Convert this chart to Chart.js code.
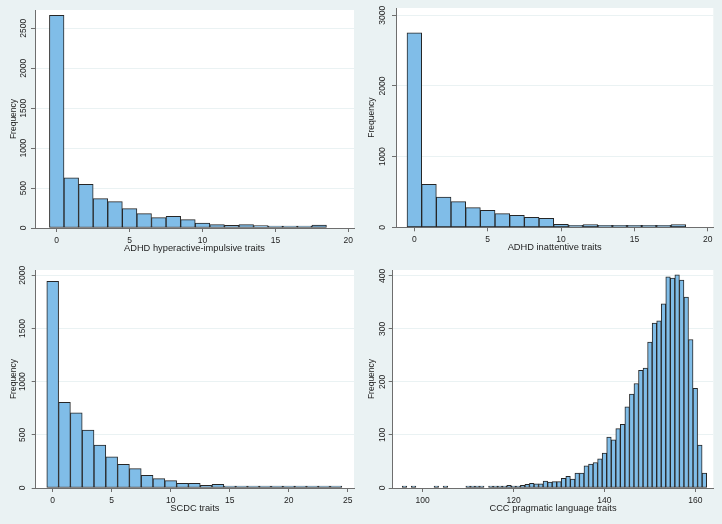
<!DOCTYPE html>
<html>
<head>
<meta charset="utf-8">
<script src="https://cdn.jsdelivr.net/npm/chart.js@4.4.0/dist/chart.umd.min.js"></script>
<style>
  html, body { margin: 0; padding: 0; background: #eaf2f3; }
  #wrap { position: relative; width: 722px; height: 524px; background: #eaf2f3; }
  #wrap canvas { position: absolute; }
</style>
</head>
<body>
<div id="wrap">
  <canvas id="hyp" width="361" height="262" style="left:0;top:0"></canvas>
  <canvas id="ina" width="361" height="262" style="left:361px;top:0"></canvas>
  <canvas id="scdc" width="361" height="262" style="left:0;top:262px"></canvas>
  <canvas id="ccc" width="361" height="262" style="left:361px;top:262px"></canvas>
</div>
<script>
// ADHD hyperactive-impulsive traits
const hypScores = [0, 1, 2, 3, 4, 5, 6, 7, 8, 9, 10, 11, 12, 13, 14, 15, 16, 17, 18];
const hypFreq = [2662, 627, 548, 368, 330, 242, 180, 130, 146, 105, 63, 42, 33, 42, 29, 17, 13, 13, 38];
const hypXTicks = [0, 5, 10, 15, 20];
const hypYTicks = [0, 500, 1000, 1500, 2000, 2500];

// ADHD inattentive traits
const inaScores = [0, 1, 2, 3, 4, 5, 6, 7, 8, 9, 10, 11, 12, 13, 14, 15, 16, 17, 18];
const inaFreq = [2750, 608, 429, 363, 278, 240, 193, 170, 141, 127, 42, 28, 38, 24, 28, 14, 24, 14, 38];
const inaXTicks = [0, 5, 10, 15, 20];
const inaYTicks = [0, 1000, 2000, 3000];

// SCDC traits
const scdcScores = [0, 1, 2, 3, 4, 5, 6, 7, 8, 9, 10, 11, 12, 13, 14, 15, 16, 17, 18, 19, 20, 21, 22, 23, 24];
const scdcFreq = [1944, 806, 708, 545, 404, 292, 223, 182, 119, 88, 69, 44, 44, 25, 34, 16, 16, 9, 9, 9, 9, 6, 13, 6, 9];
const scdcXTicks = [0, 5, 10, 15, 20, 25];
const scdcYTicks = [0, 500, 1000, 1500, 2000];

// CCC pragmatic language traits (empty bins left out)
const cccScores = [96, 98, 103, 105, 110, 111, 112, 113, 115, 116, 117, 118, 119, 120, 121, 122, 123, 124, 125,
  126, 127, 128, 129, 130, 131, 132, 133, 134, 135, 136, 137, 138, 139, 140, 141, 142, 143, 144, 145, 146,
  147, 148, 149, 150, 151, 152, 153, 154, 155, 156, 157, 158, 159, 160, 161, 162];
const cccFreq = [1, 1, 2, 3, 2, 2, 2, 2, 1, 2, 2, 2, 5, 3, 3, 5, 7, 9, 8,
  8, 13, 11, 12, 12, 18, 22, 17, 28, 28, 42, 45, 48, 55, 66, 96, 91, 112, 120, 153, 177,
  197, 222, 226, 275, 311, 315, 347, 398, 396, 402, 392, 360, 280, 188, 81, 28];
const cccXTicks = [100, 120, 140, 160];
const cccYTicks = [0, 100, 200, 300, 400];

Chart.defaults.font.family = '"Liberation Sans", Arial, sans-serif';
Chart.defaults.color = '#1e1e1e';

const axisGrey = '#6e6e6e';

// white plot region
const plotBg = {
  id: 'plotBg',
  beforeDraw(chart) {
    const a = chart.chartArea;
    const ctx = chart.ctx;
    ctx.save();
    ctx.fillStyle = '#ffffff';
    ctx.fillRect(a.left, a.top, a.right - a.left, a.bottom - a.top);
    ctx.restore();
  }
};

function histogram(id, scores, freq, xTicks, yTicks, xTitle, box) {
  return new Chart(document.getElementById(id), {
    type: 'bar',
    data: {
      datasets: [{
        data: scores.map((s, i) => ({ x: s, y: freq[i] })),
        backgroundColor: '#80bde8',
        borderColor: '#262626',
        borderWidth: 1,
        borderSkipped: false,
        minBarLength: 2,
        barPercentage: 1,
        categoryPercentage: 1
      }]
    },
    options: {
      responsive: false,
      animation: false,
      devicePixelRatio: 1,
      layout: { padding: { top: box.top, right: box.right, left: 0, bottom: 0 } },
      plugins: { legend: { display: false }, tooltip: { enabled: false } },
      scales: {
        x: {
          type: 'linear',
          offset: false,
          min: box.xMin,
          max: box.xMax,
          afterBuildTicks: (s) => { s.ticks = xTicks.map(v => ({ value: v })); },
          afterFit: (s) => { s.height = box.xh; },
          grid: { offset: false, drawOnChartArea: false, tickLength: 4, tickColor: axisGrey },
          border: { color: axisGrey },
          ticks: { padding: 3.5, font: { size: 8.5 }, callback: v => String(v), maxRotation: 0 },
          title: { display: true, text: xTitle, font: { size: 9.3 }, padding: { top: 0, bottom: box.xtp } }
        },
        y: {
          min: 0,
          max: box.yMax,
          afterBuildTicks: (s) => { s.ticks = yTicks.map(v => ({ value: v })); },
          afterFit: (s) => { s.width = box.yw; },
          grid: {
            color: (c) => (c.tick && c.tick.value === 0 ? 'rgba(0,0,0,0)' : '#eaf2f3'),
            tickColor: axisGrey,
            tickLength: 4
          },
          border: { color: axisGrey },
          ticks: {
            minRotation: 90, maxRotation: 90, crossAlign: 'center',
            padding: box.ytp, font: { size: 8.5 }, callback: v => String(v)
          },
          title: { display: true, text: 'Frequency', font: { size: 8.5 }, padding: { top: box.ttp, bottom: 0 } }
        }
      }
    },
    plugins: [plotBg]
  });
}

histogram('hyp', hypScores, hypFreq, hypXTicks, hypYTicks, 'ADHD hyperactive-impulsive traits',
  { top: 10, right: 7, yw: 35, xh: 34, xMin: -1.49, xMax: 20.39, yMax: 2729, ytp: -1.75, ttp: 8.3, xtp: 8.3 });
histogram('ina', inaScores, inaFreq, inaXTicks, inaYTicks, 'ADHD inattentive traits',
  { top: 8, right: 8.7, yw: 35, xh: 34.7, xMin: -1.25, xMax: 20.38, yMax: 3103, ytp: 0, ttp: 5.8, xtp: 9 });
histogram('scdc', scdcScores, scdcFreq, scdcXTicks, scdcYTicks, 'SCDC traits',
  { top: 8, right: 7, yw: 35.7, xh: 36, xMin: -1.44, xMax: 25.53, yMax: 2050, ytp: -0.45, ttp: 8.3, xtp: 10.3 });
histogram('ccc', cccScores, cccFreq, cccXTicks, cccYTicks, 'CCC pragmatic language traits',
  { top: 8, right: 8.7, yw: 31.7, xh: 36, xMin: 93.4, xMax: 163.96, yMax: 411, ytp: -1.1, ttp: 5.8, xtp: 10.3 });
</script>
</body>
</html>
